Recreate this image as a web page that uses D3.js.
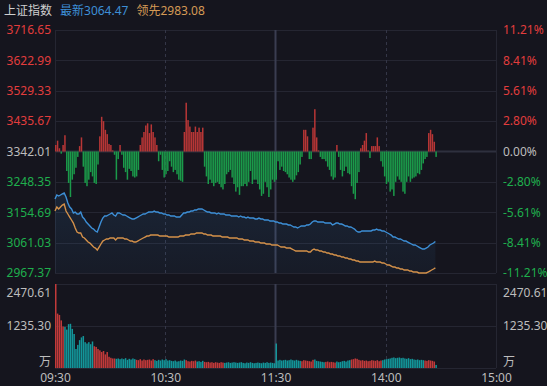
<!DOCTYPE html>
<html><head><meta charset="utf-8">
<script src="https://cdn.jsdelivr.net/npm/d3@7"></script>
<style>
html,body{margin:0;padding:0;background:#15151e;}
svg{display:block;}
text{font-family:"Noto Sans","Noto Sans CJK SC",sans-serif;}
</style></head><body>
<svg id="c" width="547" height="386"></svg>
<script>
// ---- data (one entry per minute from 09:30) ----
const latest = [
3195.5,3207.9,3204.8,3207.9,3211.0,3214.0,3201.7,3183.2,3170.9,3164.7,
3152.4,3155.4,3149.3,3149.3,3155.4,3140.0,3133.9,3124.6,3118.4,3112.3,
3106.1,3103.0,3096.9,3093.8,3109.2,3124.6,3136.9,3143.1,3143.1,3146.2,
3149.3,3152.4,3146.2,3143.1,3152.4,3152.4,3149.3,3146.2,3146.2,3143.1,
3140.0,3136.9,3133.9,3133.9,3136.9,3140.0,3143.1,3146.2,3149.3,3149.3,
3152.4,3155.4,3155.4,3155.4,3158.5,3155.4,3155.4,3152.4,3152.4,3149.3,
3149.3,3146.2,3146.2,3143.1,3143.1,3143.1,3140.0,3140.0,3140.0,3146.2,
3152.4,3152.4,3155.4,3155.4,3158.5,3158.5,3161.6,3161.6,3164.7,3164.7,
3164.7,3161.6,3158.5,3155.4,3155.4,3152.4,3152.4,3152.4,3149.3,3152.4,
3149.3,3149.3,3149.3,3146.2,3146.2,3146.2,3143.1,3143.1,3143.1,3143.1,
3140.0,3143.1,3140.0,3140.0,3136.9,3140.0,3136.9,3136.9,3136.9,3133.9,
3133.9,3136.9,3133.9,3133.9,3130.8,3130.8,3130.8,3127.7,3127.7,3127.7,
3124.6,3124.6,3121.5,3121.5,3118.4,3118.4,3118.4,3115.4,3115.4,3112.3,
3109.2,3109.2,3106.1,3109.2,3112.3,3112.3,3112.3,3115.4,3115.4,3118.4,
3124.6,3127.7,3127.7,3124.6,3124.6,3124.6,3124.6,3121.5,3121.5,3121.5,
3121.5,3115.4,3118.4,3121.5,3121.5,3118.4,3118.4,3115.4,3112.3,3112.3,
3109.2,3109.2,3106.1,3103.0,3096.9,3093.8,3093.8,3096.9,3096.9,3096.9,
3096.9,3096.9,3096.9,3099.9,3099.9,3103.0,3099.9,3099.9,3096.9,3096.9,
3093.8,3090.7,3087.6,3084.5,3078.3,3078.3,3075.3,3072.2,3072.2,3069.1,
3066.0,3066.0,3062.9,3059.8,3056.8,3053.7,3053.7,3050.6,3047.5,3044.4,
3041.3,3041.3,3044.4,3047.5,3053.7,3056.8,3059.8,3064.47];

const leading = [
3158.5,3170.9,3164.7,3170.9,3177.0,3180.1,3158.5,3149.3,3140.0,3130.8,
3121.5,3106.1,3093.8,3090.7,3090.7,3078.3,3075.3,3069.1,3062.9,3059.8,
3053.7,3047.5,3044.4,3038.3,3047.5,3056.8,3066.0,3069.1,3072.2,3072.2,
3075.3,3075.3,3075.3,3069.1,3075.3,3075.3,3075.3,3075.3,3072.2,3072.2,
3069.1,3066.0,3066.0,3062.9,3062.9,3066.0,3069.1,3072.2,3075.3,3078.3,
3081.4,3081.4,3084.5,3084.5,3084.5,3084.5,3084.5,3081.4,3081.4,3081.4,
3081.4,3081.4,3078.3,3078.3,3078.3,3078.3,3078.3,3078.3,3081.4,3081.4,
3081.4,3084.5,3084.5,3084.5,3087.6,3087.6,3087.6,3090.7,3090.7,3090.7,
3090.7,3087.6,3087.6,3084.5,3084.5,3084.5,3081.4,3081.4,3081.4,3081.4,
3081.4,3078.3,3078.3,3078.3,3078.3,3075.3,3075.3,3075.3,3075.3,3075.3,
3072.2,3072.2,3072.2,3069.1,3069.1,3069.1,3066.0,3066.0,3066.0,3062.9,
3062.9,3062.9,3059.8,3059.8,3059.8,3056.8,3056.8,3056.8,3053.7,3053.7,
3053.7,3053.7,3050.6,3047.5,3047.5,3047.5,3044.4,3044.4,3044.4,3041.3,
3038.3,3035.2,3035.2,3035.2,3035.2,3035.2,3035.2,3035.2,3032.1,3032.1,
3038.3,3041.3,3038.3,3038.3,3035.2,3035.2,3032.1,3032.1,3029.0,3029.0,
3025.9,3025.9,3022.8,3022.8,3019.8,3019.8,3016.7,3016.7,3013.6,3013.6,
3010.5,3010.5,3007.4,3007.4,3004.3,3004.3,3001.2,3001.2,3001.2,3001.2,
3001.2,3001.2,3001.2,3001.2,3004.3,3001.2,3001.2,3001.2,2998.2,2998.2,
2995.1,2992.0,2992.0,2988.9,2985.8,2985.8,2982.7,2982.7,2979.7,2979.7,
2976.6,2976.6,2976.6,2973.5,2973.5,2970.4,2970.4,2970.4,2967.4,2967.4,
2967.4,2967.4,2967.4,2970.4,2973.5,2976.6,2979.7,2983.08];

const diffPct = [
0.6,1.0,0.3,-0.2,0.6,1.5,-1.8,-2.9,-4.2,-2.6,
-2.1,-1.5,-0.5,0.5,1.3,-1.4,-2.9,-3.2,-2.6,-1.9,
-2.3,-2.9,-3.0,-1.2,1.4,3.2,2.8,2.0,1.6,0.7,
0.6,0.1,-0.3,-2.6,-0.7,0.6,-0.3,-1.5,-1.9,-2.6,
-1.6,-1.8,-2.3,-2.4,-2.3,-1.7,0.6,1.3,1.8,2.4,
2.6,1.7,2.5,1.8,1.3,0.6,-0.9,-0.3,-1.7,-2.4,
-2.1,-1.8,-0.9,-1.4,-1.9,-1.7,-2.1,-2.6,-2.7,-2.8,
1.8,4.5,2.9,2.3,1.8,1.8,2.3,1.8,2.2,1.8,
2.2,-1.4,-2.3,-3.0,-2.6,-2.9,-3.2,-2.9,-2.8,-3.0,
-3.3,-3.5,-3.0,-2.1,-1.9,-1.7,-2.4,-3.0,-3.7,-3.3,
-4.0,-3.2,-3.2,-3.0,-3.2,-2.8,-1.8,-3.0,-2.6,-2.6,
-3.0,-3.5,-4.1,-3.9,-2.8,-3.3,-4.2,-3.5,-2.6,-2.8,
-2.6,-0.9,-1.7,-1.4,-1.8,-1.9,-2.1,-2.4,-2.6,-2.8,
-2.6,-2.2,-1.9,-1.2,-0.5,2.0,2.0,1.4,-0.7,-0.7,
2.2,3.9,1.3,0.1,-0.5,-0.7,-0.7,-0.9,-1.4,-1.7,
-2.3,-2.6,-2.4,0.6,-0.5,-1.7,-2.3,-1.8,-1.4,-2.0,
-2.1,-3.2,-3.9,-4.4,-2.9,-1.9,0.3,0.6,1.0,1.7,
0.1,-0.6,0.5,0.5,0.5,1.3,0.5,-0.9,-1.4,-2.3,
-3.0,-2.8,-3.7,-3.5,-4.1,-2.8,-2.3,-2.6,-2.8,-3.7,
-3.9,-2.8,-2.3,-2.8,-2.5,-2.4,-2.3,-2.0,-2.1,-1.7,
-1.1,-0.7,-0.5,1.7,2.0,1.6,0.9,-0.5];

const volume = [
2470,1600,1560,1400,1220,1210,1130,1290,1300,1150,
1000,560,680,820,900,940,760,720,760,700,
780,640,620,560,520,470,500,400,470,330,
300,280,280,270,280,260,280,260,290,240,
270,250,280,260,240,230,260,220,250,230,
240,250,220,260,230,210,240,220,250,230,
260,220,230,210,200,220,190,200,220,210,
250,230,200,190,210,200,220,190,200,180,
210,180,170,180,160,170,150,170,160,150,
170,160,150,160,170,150,160,170,160,150,
160,170,150,140,160,150,170,150,140,150,
160,150,140,160,150,170,150,160,150,140,
720,220,240,220,230,240,220,230,250,230,
220,240,220,210,200,230,220,210,200,190,
240,250,210,200,190,180,170,180,190,170,
180,170,160,190,170,180,200,210,190,220,
230,250,260,280,270,240,220,230,210,220,
200,210,230,220,210,230,200,220,230,250,
260,270,280,300,310,290,300,310,290,300,
280,270,290,260,270,250,240,250,230,240,
230,220,210,230,220,210,190,90];

const volumeUp = [
1,1,1,1,1,0,0,0,0,0,
0,0,0,0,0,0,0,0,0,0,
0,1,1,1,1,1,1,1,1,1,
1,1,1,0,0,0,0,0,0,0,
0,0,0,0,1,1,1,1,1,1,
1,1,1,1,0,0,0,0,0,0,
0,0,0,0,0,0,0,0,0,0,
0,1,1,1,1,1,1,0,0,0,
0,1,1,1,1,1,1,1,1,1,
1,1,0,0,0,0,0,0,0,0,
0,0,0,0,0,0,0,0,0,0,
0,0,0,0,0,0,0,0,0,0,
0,0,0,0,0,0,0,0,0,0,
0,0,0,0,1,1,1,1,1,1,
1,0,0,0,0,0,0,1,1,1,
1,1,1,0,0,0,0,0,0,0,
0,1,1,1,1,1,1,1,1,1,
1,1,1,1,1,1,1,1,0,0,
0,0,0,0,0,0,0,0,0,0,
0,0,0,0,0,0,0,0,0,0,
0,1,1,1,1,1,1,0];

const priceTicks = [3716.65,3622.99,3529.33,3435.67,3342.01,3248.35,3154.69,3061.03,2967.37];
const pctTicks = [11.21,8.41,5.61,2.80,0.00,-2.80,-5.61,-8.41,-11.21];
const volTicks = [2470.61,1235.30,0];
const volUnit = "万";
const timeTicks = [0,60,120,180,240];
const timeLabels = ["09:30","10:30","11:30","14:00","15:00"];
const prevClose = 3342.01;
const titleText = "上证指数", latestLabel = "最新", leadingLabel = "领先";

// ---- layout ----
const W=547,H=386,L=55,R=496,T=30,B=273,VT=284,VB=368;
const C = {bg:"#15151e", grid:"#252632", red:"#e23d3d", green:"#1faf4d", gray:"#bdbdbd",
  barRed:"#b83636", barGreen:"#1b9a4a", volRed:"#c23a3a", volTeal:"#13969a",
  blue:"#3d8fd6", orange:"#d4914a"};
const FONT = '"Noto Sans","Noto Sans CJK SC",sans-serif';

const svg = d3.select("#c");
svg.append("rect").attr("width",W).attr("height",H).attr("fill",C.bg);

const x = d3.scaleLinear().domain([0,240]).range([L,R]);
const y = d3.scaleLinear().domain([2967.37,3716.65]).range([B,T]);
const yp = d3.scaleLinear().domain([-11.21,11.21]).range([B,T]);
const yv = d3.scaleLinear().domain([0,2470.61]).range([VB,VT]);

// grid main
const g = svg.append("g");
g.selectAll("line.h").data(priceTicks).join("line")
  .attr("x1",L).attr("x2",R).attr("y1",d=>Math.round(y(d))+0.5).attr("y2",d=>Math.round(y(d))+0.5)
  .attr("stroke",d=>d===prevClose?"#2e303e":C.grid).attr("stroke-width",d=>d===prevClose?2:1);
g.append("line").attr("x1",L+0.5).attr("x2",L+0.5).attr("y1",T).attr("y2",B).attr("stroke",C.grid);
g.append("line").attr("x1",R+0.5).attr("x2",R+0.5).attr("y1",T).attr("y2",B).attr("stroke",C.grid);
// volume grid
g.selectAll("line.vh").data(volTicks).join("line")
  .attr("x1",L).attr("x2",R).attr("y1",d=>Math.round(yv(d))+0.5).attr("y2",d=>Math.round(yv(d))+0.5)
  .attr("stroke",C.grid);
g.append("line").attr("x1",L+0.5).attr("x2",L+0.5).attr("y1",VT).attr("y2",VB).attr("stroke",C.grid);
g.append("line").attr("x1",R+0.5).attr("x2",R+0.5).attr("y1",VT).attr("y2",VB).attr("stroke",C.grid);

// vertical time lines
[[T,B],[VT,VB]].forEach(([a,b])=>{
  [60,180].forEach(m=>g.append("line").attr("x1",Math.round(x(m))+0.5).attr("x2",Math.round(x(m))+0.5)
     .attr("y1",a).attr("y2",b).attr("stroke","#343647").attr("stroke-dasharray","3,3"));
  g.append("line").attr("x1",x(120)).attr("x2",x(120)).attr("y1",a).attr("y2",b)
     .attr("stroke","#3a3d50").attr("stroke-width",2);
});

// area under latest
const defs = svg.append("defs");
const grad = defs.append("linearGradient").attr("id","ag").attr("x1",0).attr("y1",0).attr("x2",0).attr("y2",1);
grad.append("stop").attr("offset","0%").attr("stop-color","#3d8fd6").attr("stop-opacity",0.13);
grad.append("stop").attr("offset","100%").attr("stop-color","#3d8fd6").attr("stop-opacity",0.05);
svg.append("path").datum(latest)
  .attr("d",d3.area().x((d,i)=>x(i)).y0(B).y1(d=>y(d)))
  .attr("fill","url(#ag)");

// diff bars
svg.append("g").selectAll("rect").data(diffPct).join("rect")
  .attr("x",(d,i)=>x(i)).attr("width",1.5)
  .attr("y",d=>d>=0?yp(d):yp(0)).attr("height",d=>Math.abs(yp(d)-yp(0)))
  .attr("fill",d=>d>=0?C.barRed:C.barGreen);

// lines
svg.append("path").datum(leading).attr("fill","none").attr("stroke",C.orange).attr("stroke-width",1.4)
  .attr("d",d3.line().x((d,i)=>x(i)).y(d=>y(d)));
svg.append("path").datum(latest).attr("fill","none").attr("stroke",C.blue).attr("stroke-width",1.4)
  .attr("d",d3.line().x((d,i)=>x(i)).y(d=>y(d)));

// volume bars
svg.append("g").selectAll("rect").data(volume).join("rect")
  .attr("x",(d,i)=>x(i)).attr("width",1.5)
  .attr("y",d=>yv(d)).attr("height",d=>VB-yv(d))
  .attr("fill",(d,i)=>volumeUp[i]?C.volRed:C.volTeal);

// axes
function styleAxis(sel){ sel.select(".domain").remove(); sel.selectAll("text").attr("font-size",12).attr("font-family",FONT); }
const colorOf = v => v>prevClose?C.red:(v<prevClose?C.green:C.gray);
const ax1 = svg.append("g").attr("transform",`translate(51,0)`)
  .call(d3.axisLeft(y).tickValues(priceTicks).tickFormat(d3.format(".2f")).tickSize(0).tickPadding(0));
styleAxis(ax1); ax1.selectAll("text").attr("fill",d=>colorOf(d));
const ax2 = svg.append("g").attr("transform",`translate(503,0)`)
  .call(d3.axisRight(yp).tickValues(pctTicks).tickFormat(d=>d.toFixed(2)+"%").tickSize(0).tickPadding(0));
styleAxis(ax2); ax2.selectAll("text").attr("fill",d=>d>0?C.red:(d<0?C.green:C.gray));

const vfmt = d=> d===0?volUnit:d.toFixed(2);
const vdy = d=> d===0?"-0.25em":(d===2470.61?"1.0em":"0.32em");
const ax3 = svg.append("g").attr("transform",`translate(51,0)`)
  .call(d3.axisLeft(yv).tickValues(volTicks).tickFormat(vfmt).tickSize(0).tickPadding(0));
styleAxis(ax3); ax3.selectAll("text").attr("fill",C.gray).attr("dy",vdy);
const ax4 = svg.append("g").attr("transform",`translate(503,0)`)
  .call(d3.axisRight(yv).tickValues(volTicks).tickFormat(vfmt).tickSize(0).tickPadding(0));
styleAxis(ax4); ax4.selectAll("text").attr("fill",C.gray).attr("dy",vdy);

const ax5 = svg.append("g").attr("transform",`translate(0,${VB})`)
  .call(d3.axisBottom(x).tickValues(timeTicks).tickFormat((d,i)=>timeLabels[i]).tickSize(0).tickPadding(5));
styleAxis(ax5); ax5.selectAll("text").attr("fill",C.gray);

// header
const hdr = svg.append("g").attr("font-size",12).attr("font-family",FONT);
let hx = 4;
[[titleText,"#cfcfcf"],[latestLabel+d3.format(".2f")(latest[latest.length-1]),C.blue],[leadingLabel+d3.format(".2f")(leading[leading.length-1]),"#d49a55"]]
 .forEach(([t,c])=>{ const el = hdr.append("text").attr("x",hx).attr("y",15).attr("fill",c).text(t);
   hx += el.node().getComputedTextLength()+8; });
</script>
</body></html>
